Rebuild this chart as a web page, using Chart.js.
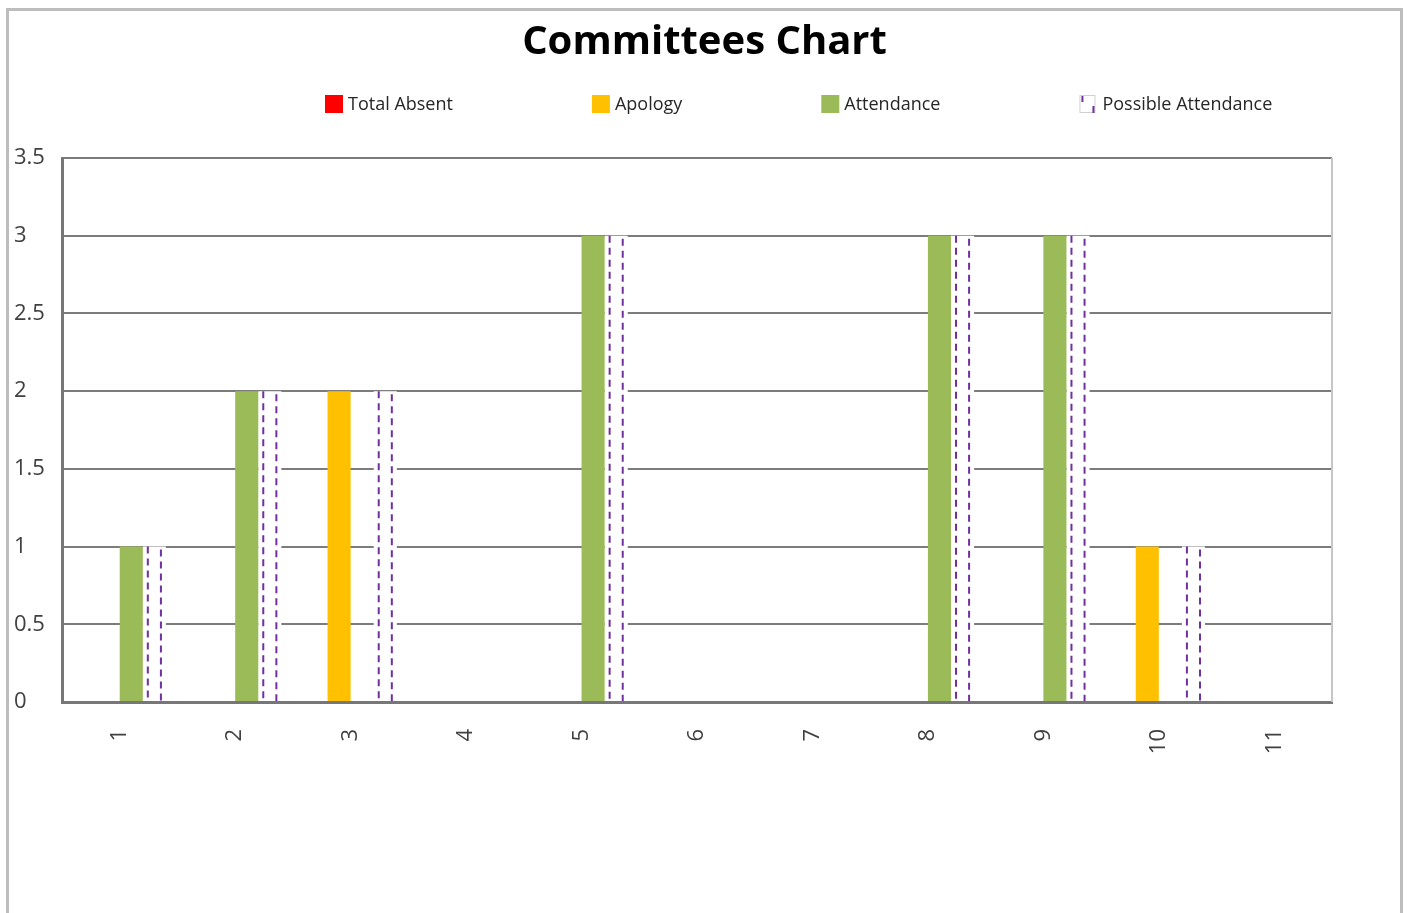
<!DOCTYPE html>
<html>
<head>
<meta charset="utf-8">
<script src="https://cdn.jsdelivr.net/npm/chart.js@4.4.1/dist/chart.umd.min.js"></script>
<style>
  html, body { margin: 0; padding: 0; background: #ffffff; overflow: hidden; }
  #frame {
    position: absolute; left: 6px; top: 8px; width: 1397px; height: 920px;
    border: 3px solid #bdbdbd; box-sizing: border-box; background: #fff;
  }
  #wrap { position: absolute; left: 0; top: 0; width: 1391px; height: 914px; }
</style>
</head>
<body>
<div id="frame"><div id="wrap"><canvas id="c"></canvas></div></div>
<script>
// ---- data ----
const categories = ['1', '2', '3', '4', '5', '6', '7', '8', '9', '10', '11'];
const totalAbsent = [0, 0, 0, 0, 0, 0, 0, 0, 0, 0, 0];
const apology = [0, 0, 2, 0, 0, 0, 0, 0, 0, 1, 0];
const attendance = [1, 2, 0, 0, 3, 0, 0, 3, 3, 0, 0];
const possibleAttendance = [1, 2, 2, 0, 3, 0, 0, 3, 3, 1, 0];
const yTickLabels = ['0', '0.5', '1', '1.5', '2', '2.5', '3', '3.5'];
const seriesNames = ['Total Absent', 'Apology', 'Attendance', 'Possible Attendance'];

const COL_RED = '#ff0000', COL_ORANGE = '#ffc000', COL_GREEN = '#9bbb59', COL_PURPLE = '#7030a0';
const FONT = "'Open Sans', 'DejaVu Sans', sans-serif";

// dashed left/right borders of the "possible attendance" bars + right plot border
const dashPlugin = {
  id: 'dashPlugin',
  beforeDatasetsDraw(chart) {
    const { ctx, chartArea } = chart;
    ctx.save();
    ctx.strokeStyle = '#c6c6c6';
    ctx.lineWidth = 2;
    ctx.beginPath();
    ctx.moveTo(chartArea.right, chartArea.top);
    ctx.lineTo(chartArea.right, chartArea.bottom);
    ctx.stroke();
    ctx.restore();
  },
  afterDatasetsDraw(chart) {
    const { ctx } = chart;
    const meta = chart.getDatasetMeta(3);
    ctx.save();
    ctx.strokeStyle = COL_PURPLE;
    ctx.lineWidth = 2;
    ctx.setLineDash([7, 5]);
    meta.data.forEach((el, i) => {
      if (!possibleAttendance[i]) return;
      const p = el.getProps(['x', 'y', 'base', 'width'], true);
      const l = p.x - p.width / 2 + 5, r = p.x + p.width / 2 - 5;
      ctx.beginPath();
      ctx.moveTo(l, p.y); ctx.lineTo(l, p.base);
      ctx.moveTo(r, p.y + 3); ctx.lineTo(r, p.base);
      ctx.stroke();
    });
    ctx.restore();
  }
};

// legend drawn in the space reserved under the title
const legendPlugin = {
  id: 'customLegend',
  afterDraw(chart) {
    const { ctx } = chart;
    const colors = [COL_RED, COL_ORANGE, COL_GREEN, '#ffffff'];
    const startX = 316, cy = 93, box = 18, gap = 5, itemPad = 139;
    ctx.save();
    ctx.font = '18px ' + FONT;
    ctx.textBaseline = 'middle';
    ctx.textAlign = 'left';
    let x = startX;
    seriesNames.forEach((name, i) => {
      const top = cy - box / 2;
      if (i < 3) {
        ctx.fillStyle = colors[i];
        ctx.fillRect(x, top, box, box);
      } else {
        ctx.fillStyle = '#ffffff';
        ctx.fillRect(x, top, box - 2, box);
        ctx.strokeStyle = '#d0d0d0';
        ctx.lineWidth = 1;
        ctx.strokeRect(x + 0.5, top + 0.5, box - 3, box - 1);
        ctx.strokeStyle = COL_PURPLE;
        ctx.lineWidth = 2;
        ctx.beginPath();
        ctx.moveTo(x + 3, top + 1); ctx.lineTo(x + 3, top + 7);
        ctx.moveTo(x + box - 4, top + 11); ctx.lineTo(x + box - 4, top + box);
        ctx.stroke();
      }
      ctx.fillStyle = '#262626';
      ctx.fillText(name, x + box + gap, cy + 1);
      x += box + gap + ctx.measureText(name).width + itemPad;
    });
    ctx.restore();
  }
};

new Chart(document.getElementById('c'), {
  type: 'bar',
  data: {
    labels: categories,
    datasets: [
      { label: seriesNames[0], data: totalAbsent, backgroundColor: COL_RED },
      { label: seriesNames[1], data: apology, backgroundColor: COL_ORANGE },
      { label: seriesNames[2], data: attendance, backgroundColor: COL_GREEN },
      { label: seriesNames[3], data: possibleAttendance, backgroundColor: '#ffffff' }
    ]
  },
  options: {
    responsive: true,
    maintainAspectRatio: false,
    animation: false,
    datasets: { bar: { categoryPercentage: 0.8, barPercentage: 1.0, borderWidth: 0 } },
    layout: { padding: { left: 5, right: 5, top: 0, bottom: 143 } },
    plugins: {
      legend: { display: false },
      tooltip: { enabled: false },
      title: {
        display: true,
        text: 'Committees Chart',
        color: '#000000',
        font: { family: FONT, size: 40, weight: 'bold', lineHeight: 1.2 },
        padding: { top: 8, bottom: 91 }
      }
    },
    scales: {
      x: {
        grid: { display: false, drawTicks: false },
        border: { display: true, color: '#777777', width: 3 },
        ticks: {
          color: '#404040',
          font: { family: FONT, size: 22 },
          maxRotation: 90, minRotation: 90,
          padding: 27,
          autoSkip: false
        },
        afterFit(scale) { scale.height = 80; }
      },
      y: {
        min: 0, max: 3.5,
        grid: { color: '#7c7c7c', lineWidth: 2, drawTicks: false },
        border: { display: true, color: '#777777', width: 3 },
        ticks: {
          stepSize: 0.5,
          color: '#404040',
          font: { family: FONT, size: 22 },
          crossAlign: 'far',
          padding: 0,
          callback: (v) => yTickLabels[Math.round(v * 2)]
        },
        afterFit(scale) { scale.width = 48; }
      },
      yRightSpace: {
        position: 'right',
        display: true,
        min: 0, max: 1,
        grid: { display: false, drawTicks: false },
        border: { display: false },
        ticks: { display: false },
        afterFit(scale) { scale.width = 63; }
      }
    }
  },
  plugins: [dashPlugin, legendPlugin]
});
</script>
</body>
</html>
